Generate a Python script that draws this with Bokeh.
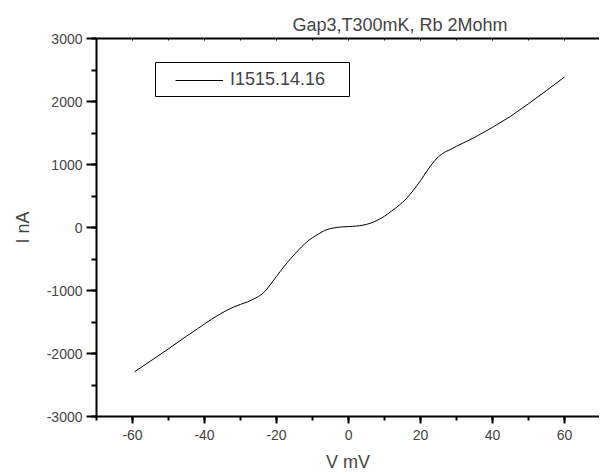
from bokeh.plotting import figure
from bokeh.models import (Legend, LegendItem, LinearAxis, SingleIntervalTicker, Range1d,
                          CustomJSTickFormatter, BoxAnnotation)
from bokeh.embed import file_html
from bokeh.resources import INLINE

# Data (V in mV, I in nA)
V_mV = [-59.4, -55, -50, -45, -42, -40, -38, -36, -34, -32, -30, -28, -26, -25,
        -24, -23, -22, -21, -20, -19, -18, -17, -16, -15, -14, -13, -12, -11,
        -10, -9, -8, -7, -6, -5, -4, -3, -2, -1, 0, 1, 2, 3, 4, 5, 6, 7, 8, 9,
        10, 11, 12, 13, 14, 15, 16, 17, 18, 19, 20, 21, 22, 23, 24, 25, 26, 27,
        28, 30, 32, 35, 40, 45, 50, 55, 60]
I_nA = [-2290, -2120, -1925, -1725, -1610, -1530, -1455, -1385, -1320, -1265,
        -1220, -1180, -1125, -1095, -1055, -1000, -930, -850, -775, -700, -625,
        -555, -490, -425, -365, -305, -250, -200, -160, -125, -90, -58, -33,
        -17, -6, 3, 8, 12, 15, 18, 22, 28, 37, 50, 66, 88, 115, 145, 180, 220,
        262, 305, 350, 400, 455, 520, 590, 665, 745, 830, 915, 995, 1065, 1125,
        1170, 1205, 1230, 1290, 1345, 1430, 1590, 1765, 1965, 2175, 2390]
series_label = "I1515.14.16"
title_text = "Gap3,T300mK, Rb 2Mohm"
x_label = "V mV"
y_label = "I nA"

FONT = "Liberation Sans"
plain = CustomJSTickFormatter(code="return String(tick);")

p = figure(width=599, height=475, output_backend="svg", toolbar_location=None,
           x_range=Range1d(-70, 69.7), y_range=Range1d(-3000, 3000),
           min_border_left=96, min_border_right=0, min_border_top=38,
           min_border_bottom=59, title=title_text)

p.title.align = "left"
p.title.offset = 196
p.title.text_font = FONT
p.title.text_font_size = "18px"
p.title.text_font_style = "normal"
p.title.standoff = 8

p.grid.visible = False
p.outline_line_color = None
p.background_fill_color = "white"
p.border_fill_color = "white"

r = p.line(V_mV, I_nA, line_color="black", line_width=1)

# bottom axis
xa = p.xaxis[0]
xa.ticker = SingleIntervalTicker(interval=20, num_minor_ticks=2)
xa.formatter = plain
xa.axis_label = x_label
xa.axis_line_width = 2
xa.major_tick_line_width = 2
xa.minor_tick_line_width = 2
xa.major_tick_out = 7
xa.major_tick_in = 0
xa.minor_tick_out = 4
xa.minor_tick_in = 0
xa.major_label_standoff = 6
xa.axis_label_standoff = 9
xa.major_label_text_font = FONT
xa.major_label_text_font_size = "14px"
xa.axis_label_text_font = FONT
xa.axis_label_text_font_size = "18px"
xa.axis_label_text_font_style = "normal"

# left axis
ya = p.yaxis[0]
ya.ticker = SingleIntervalTicker(interval=1000, num_minor_ticks=2)
ya.formatter = plain
ya.axis_label = y_label
ya.axis_line_width = 2
ya.major_tick_line_width = 2
ya.minor_tick_line_width = 2
ya.major_tick_out = 10
ya.major_tick_in = 0
ya.minor_tick_out = 5
ya.minor_tick_in = 0
ya.major_label_standoff = 4
ya.axis_label_standoff = 11
ya.major_label_text_font = FONT
ya.major_label_text_font_size = "14px"
ya.axis_label_text_font = FONT
ya.axis_label_text_font_size = "18px"
ya.axis_label_text_font_style = "normal"

# top axis line with small inward ticks
top = LinearAxis(ticker=SingleIntervalTicker(interval=10, num_minor_ticks=0),
                 formatter=CustomJSTickFormatter(code="return '';"),
                 axis_line_width=2, major_tick_in=2, major_tick_out=0,
                 minor_tick_in=0, minor_tick_out=0, major_label_standoff=0)
p.add_layout(top, "above")

# legend frame (screen units relative to the plot frame)
box = BoxAnnotation(left=59, right=253, top=354, bottom=320,
                    left_units="screen", right_units="screen",
                    top_units="screen", bottom_units="screen",
                    fill_color="white", fill_alpha=1,
                    line_color="black", line_width=1, line_alpha=1)
p.add_layout(box)

legend = Legend(items=[LegendItem(label=series_label, renderers=[r])],
                location=(79, 326), orientation="vertical",
                border_line_color=None, background_fill_alpha=0,
                padding=0, margin=0, spacing=0,
                glyph_width=48, glyph_height=20, label_standoff=7,
                label_height=20,
                label_text_font=FONT, label_text_font_size="18px")
p.add_layout(legend)

open("out.html", "w").write(file_html(p, INLINE))
